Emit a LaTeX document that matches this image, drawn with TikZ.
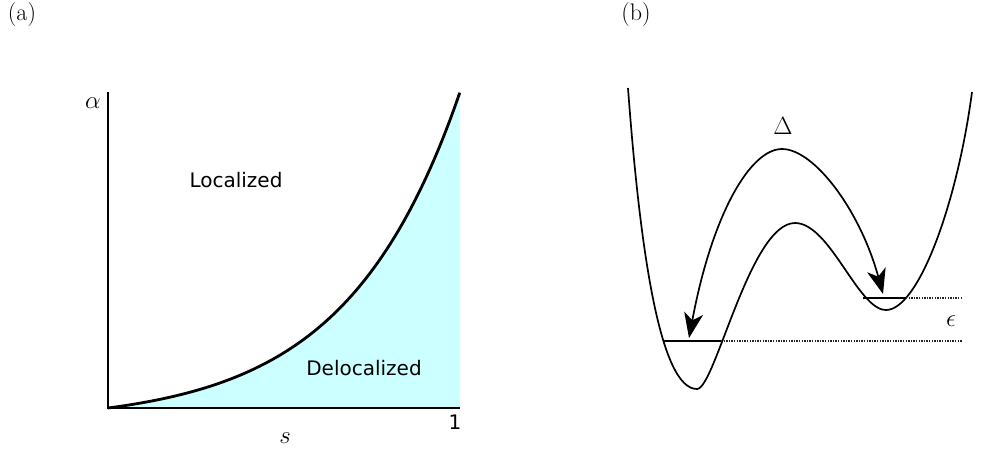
\documentclass[tikz,border=0pt]{standalone}
\usepackage{fontspec}
\setsansfont{DejaVu Sans}
\usetikzlibrary{arrows.meta}
\definecolor{lcyan}{HTML}{CCFFFF}
\begin{document}
\begin{tikzpicture}[x=1pt,y=-1pt,
  lbl/.style={inner sep=0pt,font=\fontsize{24}{28}\selectfont},
  stxt/.style={inner sep=0pt,font=\sffamily\fontsize{20}{24}\selectfont},
  mtxt/.style={inner sep=0pt,font=\fontsize{25}{30}\selectfont},
  axis/.style={line width=2.8pt},
  pot/.style={line width=1.7pt},
  lev/.style={line width=1.7pt},
  dot/.style={line width=1.3pt,dash pattern=on 1.3pt off 1.3pt,black!85},
  arr/.style={line width=1.7pt,-{Stealth[length=25pt,width=19pt,inset=7pt]}}]
\useasboundingbox (0,0) rectangle (996,450);
% labels
\node[lbl] (la) at (22,15) {(a)};
\node[lbl] (lb) at (636,15) {(b)};
% panel (a)
\fill[lcyan] (108,408) -- plot[domain=0:1,samples=80,smooth] ({108+352*\x},{408-316*(exp(3.1*\x)-1)/(exp(3.1)-1)}) -- (460,408) -- cycle;
\draw[line width=2.8pt] plot[domain=0:1,samples=80,smooth] ({108+352*\x},{408-316*(exp(3.1*\x)-1)/(exp(3.1)-1)});
\coordinate (o) at (108,408);
\coordinate (ytop) at (108,92);
\coordinate (xend) at (460,408);
\draw[axis] (ytop) -- (o) -- (xend);
\node[mtxt] (alpha) at (93,103) {$\alpha$};
\node[stxt] (loc) at (236,180) {Localized};
\node[stxt] (deloc) at (364,368) {Delocalized};
\node[mtxt] (s) at (285,438) {$s$};
\node[stxt] (one) at (455,422) {1};
% panel (b)
\draw[pot] (628,88) .. controls (640,250) and (660,389) .. (697,389)
  .. controls (715,389) and (750,223) .. (795,223)
  .. controls (830,223) and (858,310) .. (886,310)
  .. controls (918,310) and (957,205) .. (972,92);
\coordinate (l1) at (663,341);
\coordinate (l2) at (721,341);
\coordinate (l3) at (962,341);
\coordinate (r1) at (863,298);
\coordinate (r2) at (906,298);
\coordinate (r3) at (962,298);
\draw[lev] (l1) -- (l2);
\draw[dot] (l2) -- (l3);
\draw[lev] (r1) -- (r2);
\draw[dot] (r2) -- (r3);
\coordinate (peak) at (782,149);
\coordinate (tipl) at (689,338);
\coordinate (tipr) at (883,294);
\draw[arr] (peak) .. controls (750,149) and (712,215) .. (tipl);
\draw[arr] (peak) .. controls (814,149) and (860,210) .. (tipr);
\node[mtxt] (delta) at (783,126) {$\Delta$};
\node[mtxt] (eps) at (951,321) {$\epsilon$};
\end{tikzpicture}
\end{document}
